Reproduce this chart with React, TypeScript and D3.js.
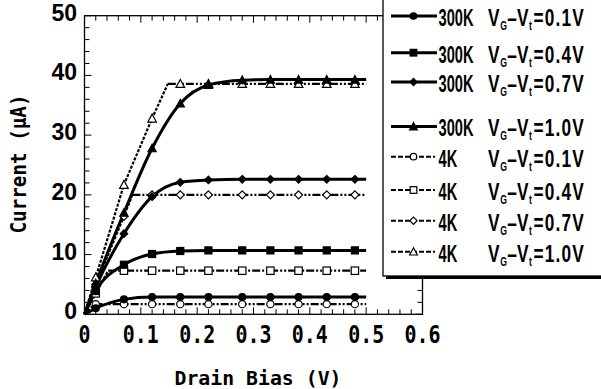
import React from "react";
import * as d3 from "d3";

// ---- data ----
const X_MARKS = [0.02, 0.07, 0.12, 0.17, 0.22, 0.28, 0.33, 0.38, 0.43, 0.48];
const X_END = 0.5;

const RT_01 = [1.0, 2.5, 2.9, 2.9, 2.9, 2.9, 2.9, 2.9, 2.9, 2.9];
const RT_04 = [3.9, 8.3, 10.1, 10.6, 10.7, 10.7, 10.7, 10.7, 10.7, 10.7];
const RT_07 = [4.6, 13.5, 19.7, 22.1, 22.5, 22.6, 22.6, 22.6, 22.6, 22.6];
const RT_10 = [5.2, 17.0, 27.8, 35.3, 38.4, 39.2, 39.3, 39.3, 39.3, 39.3];

const LT_01 = [1.7, 1.7, 1.7, 1.7, 1.7, 1.7, 1.7, 1.7, 1.7, 1.7];
const LT_04 = [3.5, 7.3, 7.3, 7.3, 7.3, 7.3, 7.3, 7.3, 7.3, 7.3];
const LT_07 = [5.0, 16.4, 20.0, 20.0, 20.0, 20.0, 20.0, 20.0, 20.0, 20.0];
const LT_10 = [6.2, 21.7, 32.8, 38.6, 38.6, 38.6, 38.6, 38.6, 38.6, 38.6];
const LT_KINKS = [0.018, 0.042, 0.085, 0.148];

const LEGEND_TEMPS = ["300K", "300K", "300K", "300K", "4K", "4K", "4K", "4K"];
const LEGEND_VALUES = ["0.1V", "0.4V", "0.7V", "1.0V", "0.1V", "0.4V", "0.7V", "1.0V"];

const X_TICKS = [0, 0.1, 0.2, 0.3, 0.4, 0.5, 0.6];
const X_TICK_LABELS = ["0", "0.1", "0.2", "0.3", "0.4", "0.5", "0.6"];
const Y_TICKS = [0, 10, 20, 30, 40, 50];
const Y_TICK_LABELS = ["0", "10", "20", "30", "40", "50"];

const X_LABEL = "Drain Bias (V)";
const Y_LABEL = "Current (μA)";

// ---- layout ----
const W = 601, H = 389;
const L = 84.5, R = 422.5, T = 15.7, B = 314.3;

const x = d3.scaleLinear().domain([0, 0.6]).range([L, R]);
const y = d3.scaleLinear().domain([0, 50]).range([B, T]);

type Shape = "circle" | "square" | "diamond" | "triangle";
const SHAPES: Shape[] = ["circle", "square", "diamond", "triangle"];

const rtSeries = [RT_01, RT_04, RT_07, RT_10].map((v, i) => ({ values: v, shape: SHAPES[i] }));
const ltSeries = [LT_01, LT_04, LT_07, LT_10].map((v, i) => ({ values: v, shape: SHAPES[i], kink: LT_KINKS[i] }));

const smooth = d3.line<[number, number]>().x(d => x(d[0])).y(d => y(d[1])).curve(d3.curveMonotoneX);
const straight = d3.line<[number, number]>().x(d => x(d[0])).y(d => y(d[1]));

function Marker({ cx, cy, shape, filled, s = 1 }: { cx: number; cy: number; shape: Shape; filled: boolean; s?: number }) {
  const fill = filled ? "#000" : "#fff";
  const stroke = "#000";
  const sw = 1.2;
  if (shape === "circle") return <circle cx={cx} cy={cy} r={3.6 * s} fill={fill} stroke={stroke} strokeWidth={sw} />;
  if (shape === "square") {
    const h = 3.7 * s;
    return <rect x={cx - h} y={cy - h} width={2 * h} height={2 * h} fill={fill} stroke={stroke} strokeWidth={sw} />;
  }
  if (shape === "diamond") {
    const h = 4 * s;
    return <path d={`M${cx},${cy - h}L${cx + h},${cy}L${cx},${cy + h}L${cx - h},${cy}Z`} fill={fill} stroke={stroke} strokeWidth={sw} />;
  }
  const h = 4.3 * s;
  return <path d={`M${cx},${cy - h}L${cx + h},${cy + h * 0.85}L${cx - h},${cy + h * 0.85}Z`} fill={fill} stroke={stroke} strokeWidth={sw} />;
}

const LEGEND_ROWS_Y = [16, 52.7, 82, 126.5, 156.7, 190, 220.7, 251.7];
const SX = 0.72; // horizontal compression of legend text
const SX_T = 0.61; // compression of the temperature label
const LX0 = 488;
const ux = (target: number) => (target - LX0) / SX;

export default function App() {
  const xMinor = d3.range(0, 0.6001, 0.02);
  const yMinor = d3.range(0, 50.001, 2);
  const tickFont = "'Liberation Sans', Arial, sans-serif";
  const monoFont = "'DejaVu Sans Mono', monospace";

  return (
    <svg width={W} height={H} style={{ position: "absolute", left: 0, top: 0, background: "#fff" }}>
      <rect x={0} y={0} width={W} height={H} fill="#fff" />
      {/* frame */}
      <rect x={L} y={T} width={R - L} height={B - T} fill="none" stroke="#000" strokeWidth={1.3} />
      {/* ticks */}
      {xMinor.map((t, i) => {
        const len = i % 5 === 0 ? 7 : 5;
        return (
          <g key={"xt" + i}>
            <line x1={x(t)} x2={x(t)} y1={B} y2={B - len} stroke="#000" strokeWidth={1} />
            <line x1={x(t)} x2={x(t)} y1={T} y2={T + len} stroke="#000" strokeWidth={1} />
          </g>
        );
      })}
      {yMinor.map((t, i) => {
        const len = i % 5 === 0 ? 7 : 5;
        return (
          <g key={"yt" + i}>
            <line x1={L} x2={L + len} y1={y(t)} y2={y(t)} stroke="#000" strokeWidth={1} />
            <line x1={R} x2={R - len} y1={y(t)} y2={y(t)} stroke="#000" strokeWidth={1} />
          </g>
        );
      })}
      {/* tick labels */}
      {Y_TICKS.map((t, i) => (
        <text key={"yl" + i} x={77} y={y(t) + 5} textAnchor="end" fontFamily={tickFont} fontWeight="bold" fontSize={23}>
          {Y_TICK_LABELS[i]}
        </text>
      ))}
      {X_TICKS.map((t, i) => (
        <text
          key={"xl" + i}
          x={x(t) - (X_TICK_LABELS[i].length * 12) / 2}
          y={342.7}
          fontFamily={monoFont}
          fontWeight="bold"
          fontSize={24}
          textLength={X_TICK_LABELS[i].length * 12}
          lengthAdjust="spacingAndGlyphs"
        >
          {X_TICK_LABELS[i]}
        </text>
      ))}
      {/* axis titles */}
      <text x={258 - 83.5} y={385} fontFamily={monoFont} fontWeight="bold" fontSize={20} textLength={167} lengthAdjust="spacingAndGlyphs">
        {X_LABEL}
      </text>
      <text
        x={26}
        y={164}
        transform="rotate(-90, 26, 164)"
        fontFamily={monoFont}
        fontWeight="bold"
        fontSize={22}
        textAnchor="middle"
        textLength={139}
        lengthAdjust="spacingAndGlyphs"
      >
        {Y_LABEL}
      </text>

      {/* 4K series */}
      {ltSeries.map((s, i) => {
        const flat = s.values[s.values.length - 1];
        const rise: [number, number][] = [[0, 0], ...X_MARKS.map((xv, j) => [xv, s.values[j]] as [number, number]).filter(p => p[0] < s.kink), [s.kink, flat]];
        const flatPts: [number, number][] = [[s.kink, flat], [X_END, flat]];
        return (
          <g key={"lt" + i}>
            <path d={straight(rise) || ""} fill="none" stroke="#000" strokeWidth={2.2} strokeDasharray="3,1.5" />
            <path d={straight(flatPts) || ""} fill="none" stroke="#000" strokeWidth={2.2} strokeDasharray="8,2,2,2,2,2" />
          </g>
        );
      })}
      {/* 300K series */}
      {rtSeries.map((s, i) => {
        const pts: [number, number][] = [[0, 0], ...X_MARKS.map((xv, j) => [xv, s.values[j]] as [number, number]), [X_END, s.values[s.values.length - 1]]];
        return <path key={"rt" + i} d={smooth(pts) || ""} fill="none" stroke="#000" strokeWidth={3} />;
      })}
      {ltSeries.map((s, i) =>
        X_MARKS.map((xv, j) => <Marker key={`lm${i}-${j}`} cx={x(xv)} cy={y(s.values[j])} shape={s.shape} filled={false} />)
      )}
      {rtSeries.map((s, i) =>
        X_MARKS.map((xv, j) => <Marker key={`rm${i}-${j}`} cx={x(xv)} cy={y(s.values[j])} shape={s.shape} filled={true} s={0.95} />)
      )}

      {/* legend */}
      <rect x={386} y={1} width={230} height={278} fill="#000" />
      <rect x={383} y={-2} width={230} height={278} fill="#fff" stroke="#000" strokeWidth={1.3} />
      {LEGEND_TEMPS.map((temp, i) => {
        const ly = LEGEND_ROWS_Y[i];
        const is300 = i < 4;
        const base = ly + 9.8;
        return (
          <g key={"lg" + i}>
            {is300 ? (
              <line x1={391} x2={437} y1={ly} y2={ly} stroke="#000" strokeWidth={3} />
            ) : (
              <line x1={391} x2={435} y1={ly} y2={ly} stroke="#000" strokeWidth={2} strokeDasharray="5,2" />
            )}
            <Marker cx={413.5} cy={ly} shape={SHAPES[i % 4]} filled={is300} s={0.9} />
            <g transform={`translate(438.5,${base}) scale(${SX_T},1)`}>
              <text x={0} y={0} fontFamily={tickFont} fontWeight="bold" fill="#000" fontSize={24}>
                {temp}
              </text>
            </g>
            <g transform={`translate(${LX0},${base}) scale(${SX},1)`}>
              <text x={0} y={0} fontFamily={tickFont} fontWeight="bold" fill="#000" fontSize={24}>
                <tspan x={0}>V</tspan>
                <tspan x={ux(500.3)} dy={4} fontSize={12}>G</tspan>
                <tspan x={ux(507.3)} dy={-4}>–</tspan>
                <tspan x={ux(517)}>V</tspan>
                <tspan x={ux(529)} dy={4} fontSize={12}>t</tspan>
                <tspan x={ux(533.5)} dy={-4} letterSpacing={1.6}>{"=" + LEGEND_VALUES[i]}</tspan>
              </text>
            </g>
          </g>
        );
      })}
    </svg>
  );
}
